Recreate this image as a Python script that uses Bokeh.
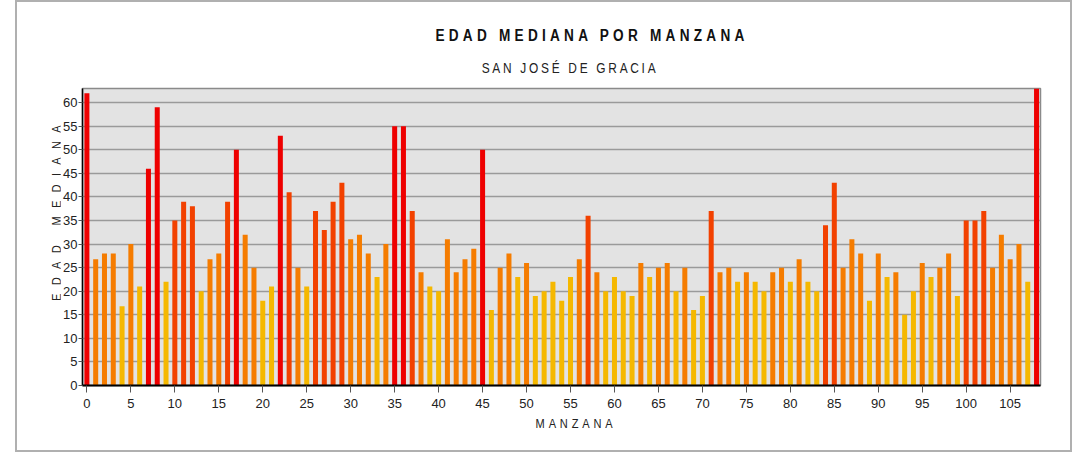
from bokeh.plotting import figure
from bokeh.models import ColumnDataSource, FixedTicker, Div, Range1d, Spacer
from bokeh.layouts import column, row
from bokeh.embed import file_html
from bokeh.resources import INLINE
import numpy as np

# ---- data ----
manzana = list(range(109))
edad = [62, 26.8, 28, 28, 16.8, 30, 21, 46, 59, 22,
        35, 39, 38, 20, 26.8, 28, 39, 50, 32, 25,
        18, 21, 53, 41, 25, 21, 37, 33, 39, 43,
        31, 32, 28, 23, 30, 55, 55, 37, 24, 21,
        20, 31, 24, 26.8, 29, 50, 16, 25, 28, 23,
        26, 19, 20, 22, 18, 23, 26.8, 36, 24, 20,
        23, 20, 19, 26, 23, 25, 26, 20, 25, 16,
        19, 37, 24, 25, 22, 24, 22, 20, 24, 25,
        22, 26.8, 22, 20, 34, 43, 25, 31, 28, 18,
        28, 23, 24, 15, 20, 26, 23, 25, 28, 19,
        35, 35, 37, 25, 32, 26.8, 30, 22, 63]
x_ticks = list(range(0, 106, 5))
y_ticks = list(range(0, 61, 5))
class_breaks = [24, 33, 45]

title_text = "EDAD MEDIANA POR MANZANA"
subtitle_text = "SAN JOSÉ DE GRACIA"
x_label = "MANZANA"
y_label = "EDAD MEDIANA"

palette = ["#f5b800", "#f57c00", "#f24100", "#ee0000"]
colors = [palette[int(np.digitize(v, class_breaks))] for v in edad]
src = ColumnDataSource(dict(x=manzana, top=edad, color=colors))

FONT = "'Liberation Sans', Arial, sans-serif"

p = figure(width=1010, height=327,
           x_range=Range1d(-0.5, 108.45), y_range=Range1d(0, 63),
           output_backend="svg", toolbar_location=None,
           min_border_left=18, min_border_right=30,
           min_border_top=2, min_border_bottom=28,
           background_fill_color="#e3e3e3", border_fill_color="white")
p.margin = 0
p.vbar(x="x", top="top", width=0.57, fill_color="color", line_color=None, source=src)

p.outline_line_color = "#8a8a8a"
p.outline_line_width = 1.5
p.xgrid.visible = False
p.ygrid.grid_line_color = "#9a9a9a"
p.ygrid.grid_line_width = 1.6

p.xaxis.ticker = FixedTicker(ticks=x_ticks)
p.yaxis.ticker = FixedTicker(ticks=y_ticks)
for ax in (p.xaxis, p.yaxis):
    ax.axis_line_color = "black"
    ax.major_tick_line_color = "#555555"
    ax.major_tick_in = 0
    ax.minor_tick_out = 0
    ax.minor_tick_in = 0
    ax.major_label_text_font = FONT
    ax.major_label_text_font_size = "13px"
    ax.major_label_text_color = "#222222"
p.xaxis.axis_line_width = 2
p.yaxis.axis_line_width = 1.5
p.xaxis.major_tick_out = 7
p.xaxis.major_label_standoff = 6
p.yaxis.major_tick_out = 4
p.yaxis.major_label_standoff = 1


def label_html(left, top, text, size, spacing, bold=False, rotate=False, color="#222"):
    tf = "translate(-50%,-50%)" + (" rotate(-90deg)" if rotate else "") + " scaleX(0.85)"
    return ('<div style="position:absolute;left:%dpx;top:%dpx;transform:%s;'
            'white-space:nowrap;font-family:%s;font-size:%dpx;font-weight:%s;'
            'letter-spacing:%.1fpx;color:%s;line-height:1;">%s</div>'
            % (left, top, tf, FONT, size, "bold" if bold else "normal", spacing, color, text))


header = Div(width=1053, height=84, margin=0, text=(
    '<div style="position:relative;width:1053px;height:84px;">'
    + label_html(575, 34, title_text, 16, 5.0, bold=True, color="#111")
    + label_html(553, 66, subtitle_text, 14, 3.2)
    + '</div>'))

ylab = Div(width=43, height=327, margin=0, text=(
    '<div style="position:relative;width:43px;height:327px;">'
    + label_html(39, 123, y_label, 13, 9.8, rotate=True)
    + '</div>'))

xlab = Div(width=1053, height=37, margin=0, text=(
    '<div style="position:relative;width:1053px;height:37px;">'
    + label_html(559, 10, x_label, 13, 4.5)
    + '</div>'))

boxed = column(header, row(ylab, p, margin=0, spacing=0), xlab, margin=0, spacing=0,
               styles={"border": "2px solid #b0b0b0"})
layout = row(Spacer(width=15, height=10, margin=0), boxed, margin=0, spacing=0)

open("out.html", "w").write(file_html(layout, INLINE))
